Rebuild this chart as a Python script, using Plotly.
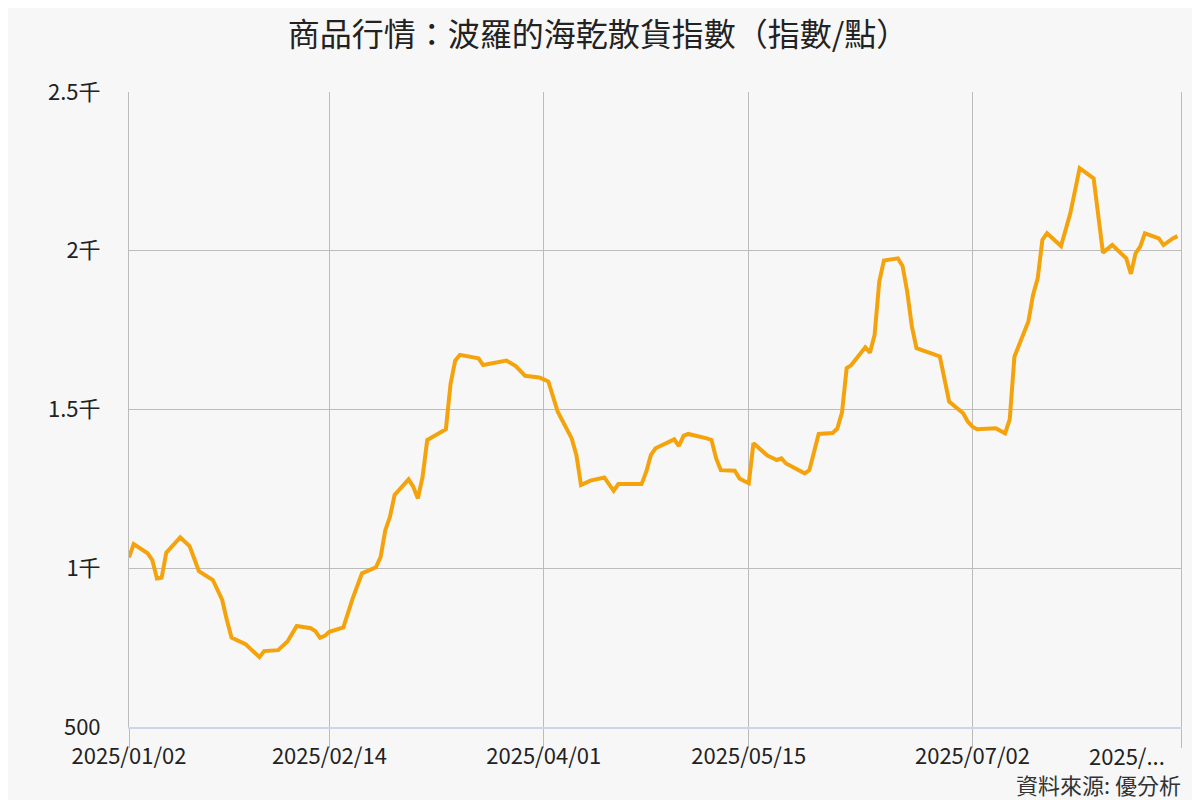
import plotly.graph_objects as go

# ---- data ----
dates = [
    "2025-01-02", "2025-01-03", "2025-01-06", "2025-01-07", "2025-01-08", "2025-01-09",
    "2025-01-10", "2025-01-13", "2025-01-15", "2025-01-17", "2025-01-20", "2025-01-22",
    "2025-01-23", "2025-01-24", "2025-01-27", "2025-01-29", "2025-01-30", "2025-01-31",
    "2025-02-03", "2025-02-05", "2025-02-07", "2025-02-10", "2025-02-11", "2025-02-12",
    "2025-02-13", "2025-02-14", "2025-02-17", "2025-02-19", "2025-02-21", "2025-02-24",
    "2025-02-25", "2025-02-26", "2025-02-27", "2025-02-28", "2025-03-03", "2025-03-04",
    "2025-03-05", "2025-03-06", "2025-03-07", "2025-03-11", "2025-03-12", "2025-03-13",
    "2025-03-14", "2025-03-18", "2025-03-19", "2025-03-24", "2025-03-26", "2025-03-28",
    "2025-03-31", "2025-04-01", "2025-04-02", "2025-04-04", "2025-04-07", "2025-04-08",
    "2025-04-09", "2025-04-11", "2025-04-14", "2025-04-16", "2025-04-17", "2025-04-22",
    "2025-04-23", "2025-04-24", "2025-04-25", "2025-04-29", "2025-04-30", "2025-05-01",
    "2025-05-02", "2025-05-06", "2025-05-07", "2025-05-08", "2025-05-09", "2025-05-12",
    "2025-05-13", "2025-05-14", "2025-05-15", "2025-05-16", "2025-05-19", "2025-05-20",
    "2025-05-21", "2025-05-22", "2025-05-23", "2025-05-27", "2025-05-28", "2025-05-30",
    "2025-06-02", "2025-06-03", "2025-06-04", "2025-06-05", "2025-06-06", "2025-06-09",
    "2025-06-10", "2025-06-11", "2025-06-12", "2025-06-13", "2025-06-16", "2025-06-17",
    "2025-06-18", "2025-06-19", "2025-06-20", "2025-06-25", "2025-06-27", "2025-06-30",
    "2025-07-01", "2025-07-02", "2025-07-03", "2025-07-07", "2025-07-09", "2025-07-10",
    "2025-07-11", "2025-07-14", "2025-07-15", "2025-07-16", "2025-07-17", "2025-07-18",
    "2025-07-21", "2025-07-23", "2025-07-25", "2025-07-28", "2025-07-30", "2025-08-01",
    "2025-08-04", "2025-08-05", "2025-08-06", "2025-08-07", "2025-08-08", "2025-08-11",
    "2025-08-12", "2025-08-14", "2025-08-15",
]
bdi = [
    1034, 1076, 1047, 1026, 968, 970,
    1049, 1097, 1070, 991, 963, 900,
    837, 782, 761, 734, 720, 739,
    742, 769, 818, 811, 802, 781,
    787, 800, 814, 905, 984, 1003,
    1036, 1120, 1162, 1231, 1280, 1257,
    1220, 1288, 1404, 1438, 1580, 1654,
    1672, 1661, 1640, 1654, 1637, 1606,
    1601, 1595, 1588, 1493, 1409, 1357,
    1262, 1276, 1286, 1244, 1265, 1265,
    1304, 1357, 1378, 1406, 1385, 1417,
    1423, 1409, 1404, 1346, 1309, 1307,
    1283, 1275, 1268, 1394, 1355, 1348,
    1341, 1346, 1330, 1299, 1309, 1423,
    1426, 1440, 1490, 1630, 1640, 1696,
    1679, 1735, 1903, 1969, 1976, 1952,
    1871, 1761, 1693, 1667, 1525, 1488,
    1462, 1446, 1438, 1441, 1425, 1469,
    1666, 1777, 1861, 1913, 2034, 2055,
    2015, 2118, 2260, 2228, 1994, 2018,
    1976, 1927, 1992, 2013, 2055, 2039,
    2018, 2039, 2046,
]

x_tick_vals = ["2025-01-02", "2025-02-14", "2025-04-01", "2025-05-15", "2025-07-02", "2025-08-15 18:00"]
x_tick_text = ["2025/01/02", "2025/02/14", "2025/04/01", "2025/05/15", "2025/07/02", ""]
last_tick_label = "2025/..."

y_tick_vals = [500, 1000, 1500, 2000, 2500]
y_tick_text = ["500", "1千", "1.5千", "2千", "2.5千"]

title_text = "商品行情：波羅的海乾散貨指數（指數/點）"
source_text = "資料來源: 優分析"

FONT = "Noto Sans CJK TC, Noto Sans, sans-serif"
BG = "#f7f7f7"
GRID = "#bcbcbc"
TXT = 22

# page body has an 8px margin, so figure coordinates are shifted by 8px
OFF = 8
W, H = 1200 - OFF, 800 - OFF
L, R, T, B = 129 - OFF, 1181 - OFF, 92 - OFF, 727 - OFF

fig = go.Figure()
fig.add_trace(go.Scatter(
    x=dates, y=bdi, mode="lines",
    line=dict(color="#f5a30c", width=4),
    hoverinfo="x+y", showlegend=False,
))

fig.update_layout(
    width=W, height=H,
    paper_bgcolor=BG, plot_bgcolor=BG,
    margin=dict(l=L, r=W - R, t=T, b=H - B, autoexpand=False),
    font=dict(family=FONT, color="#222222"),
    title=dict(
        text=title_text, x=(598 - OFF) / W, xanchor="center",
        y=1 - (35 - OFF) / H, yanchor="middle", yref="container",
        font=dict(size=32, color="#222222", family=FONT),
    ),
    xaxis=dict(
        type="date", automargin=False,
        range=["2025-01-02", "2025-08-15 18:00"],
        tickvals=x_tick_vals, ticktext=x_tick_text,
        showgrid=True, gridcolor=GRID, gridwidth=1,
        ticks="outside", ticklen=19, tickcolor=GRID, tickwidth=1,
        ticklabelstandoff=-10,
        showline=True, linecolor="#ccd6eb", linewidth=2,
        tickfont=dict(size=TXT, color="#222222", family=FONT),
        zeroline=False, fixedrange=True,
    ),
    yaxis=dict(
        range=[500, 2500], automargin=False,
        tickvals=y_tick_vals, ticktext=y_tick_text,
        showgrid=True, gridcolor=GRID, gridwidth=1,
        showline=True, linecolor=GRID, linewidth=1, mirror=True,
        ticks="", ticklabelstandoff=23,
        tickfont=dict(size=TXT, color="#222222", family=FONT),
        zeroline=False, fixedrange=True,
    ),
)

fig.add_annotation(
    text=last_tick_label, xref="paper", yref="paper",
    x=(1127 - OFF - L) / (R - L), y=-(755 - OFF - B) / (B - T),
    xanchor="center", yanchor="middle", showarrow=False,
    borderpad=0, borderwidth=0,
    font=dict(size=TXT, color="#222222", family=FONT),
)
fig.add_annotation(
    text=source_text, xref="paper", yref="paper",
    x=1.0, y=-(800 - OFF - B) / (B - T),
    xanchor="right", yanchor="bottom", showarrow=False,
    borderpad=0, borderwidth=0,
    font=dict(size=TXT, color="#333333", family=FONT),
)

fig.write_html("out.html")
